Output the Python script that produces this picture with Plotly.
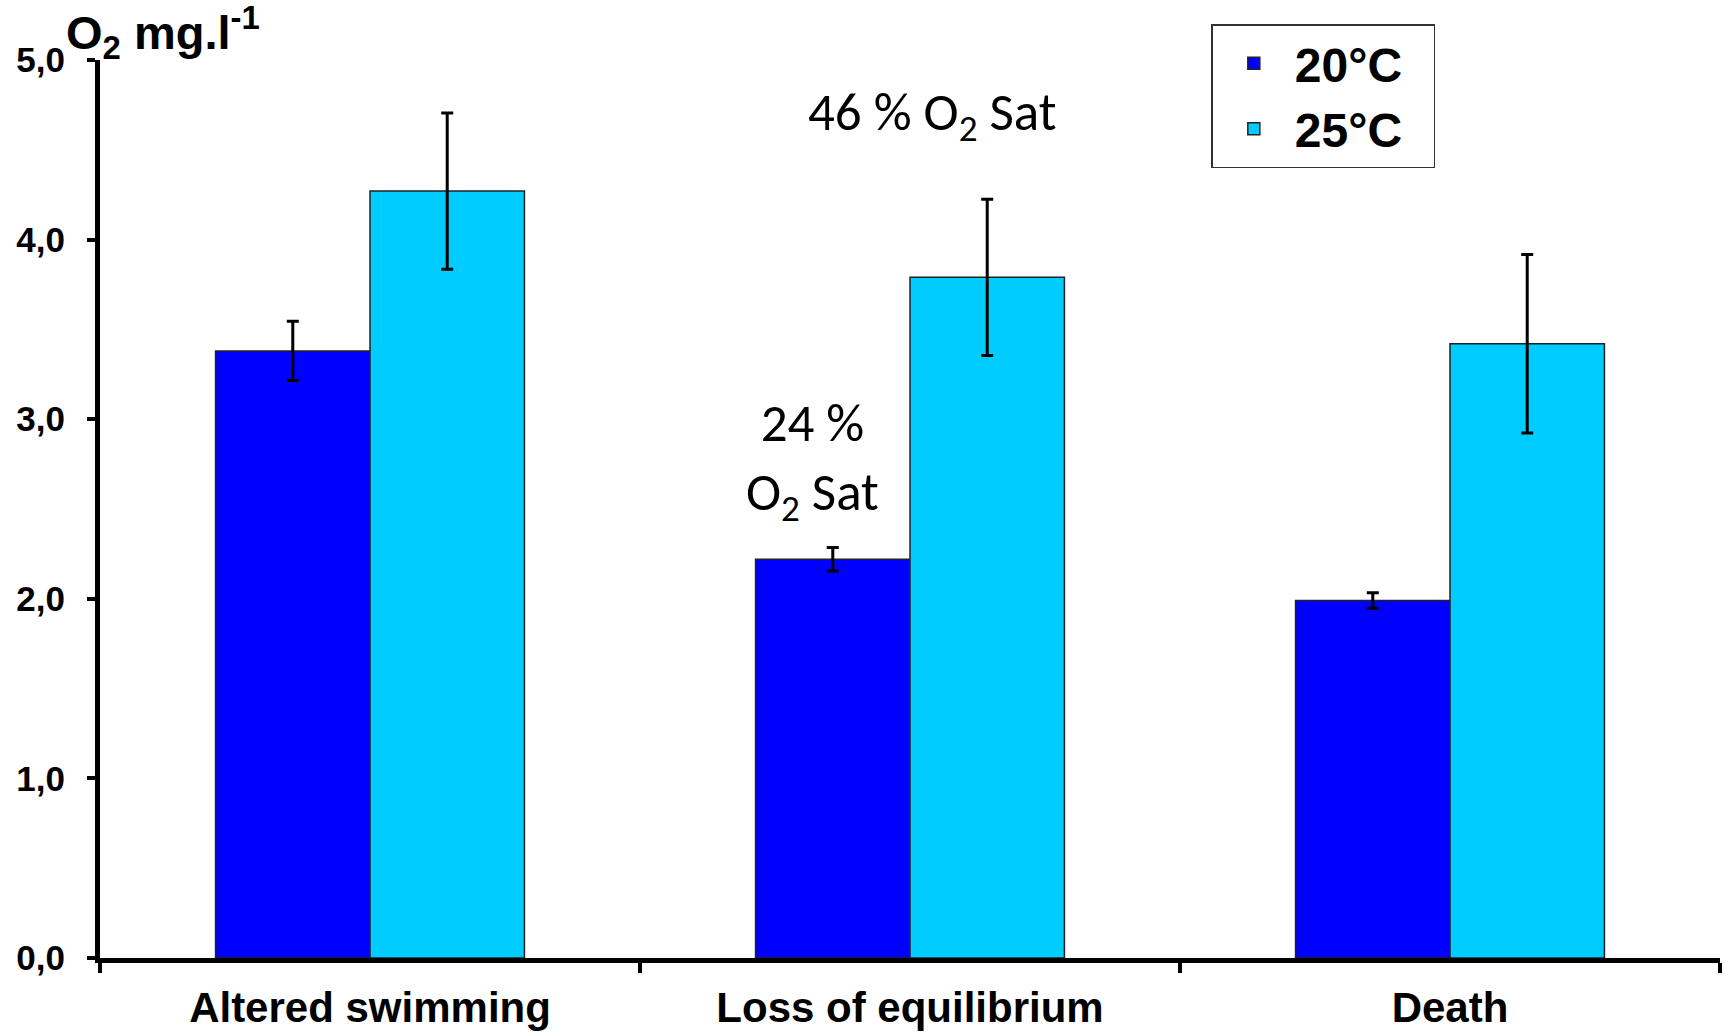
import plotly.graph_objects as go

categories = ["Altered swimming", "Loss of equilibrium", "Death"]
series_names = ["20°C", "25°C"]
values_20 = [3.38, 2.22, 1.99]
errors_20 = [0.165, 0.065, 0.043]
values_25 = [4.27, 3.79, 3.42]
errors_25 = [0.435, 0.435, 0.497]
y_ticks = [0.0, 1.0, 2.0, 3.0, 4.0, 5.0]

colors = ["#0000FF", "#00CCFF"]
sans = "Liberation Sans, Arial, sans-serif"

fig = go.Figure()
for name, vals, errs, col in zip(series_names, [values_20, values_25], [errors_20, errors_25], colors):
    fig.add_trace(go.Bar(
        x=categories, y=vals, name=name + "\u00a0\u00a0",
        marker=dict(color=col, line=dict(color="#222222", width=1.5)),
        error_y=dict(type="data", array=errs, visible=True, color="black", thickness=3, width=6),
    ))

fig.update_layout(
    width=1725, height=1033,
    margin=dict(l=100, r=5, t=60, b=75),
    plot_bgcolor="white", paper_bgcolor="white",
    barmode="group", bargap=0.428, bargroupgap=0,
    separators=",.",
    showlegend=True,
    legend=dict(
        x=0.686, y=1.04, xanchor="left", yanchor="top",
        bgcolor="white", bordercolor="#333333", borderwidth=1.5,
        font=dict(family=sans, size=48, color="black", weight="bold"),
        itemwidth=72,
    ),
    font=dict(family=sans, color="black"),
)

fig.update_xaxes(
    automargin=False,
    showline=True, linecolor="black", linewidth=5,
    ticks="outside", tickson="boundaries", ticklen=10, tickwidth=4, tickcolor="black",
    tickfont=dict(size=42, family=sans, color="black", weight="bold"),
    ticklabelstandoff=9,
    showgrid=False,
)
fig.update_yaxes(
    automargin=False,
    range=[0, 5], tickvals=y_ticks, tickformat=".1f",
    showline=True, linecolor="black", linewidth=5,
    ticks="outside", ticklen=8, tickwidth=4, tickcolor="black",
    tickfont=dict(size=35, family=sans, color="black", weight="bold"),
    ticklabelstandoff=15,
    showgrid=False, zeroline=False,
)

annot_font = dict(family="Carlito, Lato, sans-serif", size=53, color="black")
fig.add_annotation(x=1.04, y=4.69, xref="x", yref="y", text="46 % O<sub>2</sub> Sat",
                   showarrow=False, font=annot_font, xanchor="center", yanchor="middle")
fig.add_annotation(x=0.82, y=2.77, xref="x", yref="y", text="24 %<br>O<sub>2</sub> Sat",
                   showarrow=False, font=annot_font, xanchor="center", yanchor="middle")
fig.add_annotation(x=-0.022, y=1.07, xref="paper", yref="paper", text="O<sub>2</sub> mg.l<sup>-1</sup>",
                   showarrow=False, xanchor="left", yanchor="top",
                   font=dict(family=sans, size=47, color="black", weight="bold"))

fig.write_html("out.html", config={"displayModeBar": False},
               post_script="document.body.style.margin='0';")
